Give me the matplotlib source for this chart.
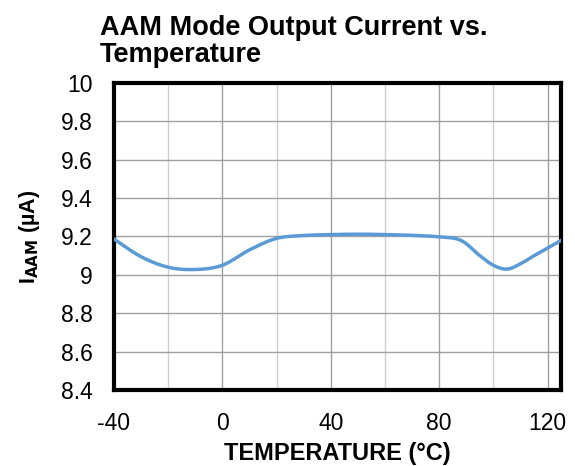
import numpy as np
import matplotlib
matplotlib.use("Agg")
import matplotlib.pyplot as plt

plt.rcParams['font.family'] = ['Liberation Sans', 'DejaVu Sans']
plt.rcParams['axes.unicode_minus'] = False

# data
temps = [-40, -30, -20, -10, 0, 10, 20, 30, 40, 50, 60, 70, 80, 88, 95, 100, 105, 110, 115, 120, 125]
current = [9.187, 9.095, 9.04, 9.028, 9.05, 9.13, 9.19, 9.205, 9.21, 9.212, 9.21, 9.206,
           9.198, 9.18, 9.10, 9.05, 9.03, 9.058, 9.10, 9.14, 9.18]
x_ticks = [-40, 0, 40, 80, 120]
y_ticks = [8.4, 8.6, 8.8, 9.0, 9.2, 9.4, 9.6, 9.8, 10.0]
y_labels = ['8.4', '8.6', '8.8', '9', '9.2', '9.4', '9.6', '9.8', '10']


def smooth(x, y, n=20):
    # Catmull-Rom style smoothing, like a spreadsheet "smoothed line"
    x = np.asarray(x, float)
    y = np.asarray(y, float)
    px = np.concatenate([[2 * x[0] - x[1]], x, [2 * x[-1] - x[-2]]])
    py = np.concatenate([[2 * y[0] - y[1]], y, [2 * y[-1] - y[-2]]])
    xs, ys = [], []
    t = np.linspace(0, 1, n, endpoint=False)
    for i in range(1, len(px) - 2):
        for p, out in ((px, xs), (py, ys)):
            p0, p1, p2, p3 = p[i - 1], p[i], p[i + 1], p[i + 2]
            out.extend(0.5 * (2 * p1 + (-p0 + p2) * t + (2 * p0 - 5 * p1 + 4 * p2 - p3) * t ** 2
                              + (-p0 + 3 * p1 - 3 * p2 + p3) * t ** 3))
    xs.append(x[-1])
    ys.append(y[-1])
    return xs, ys


fig = plt.figure(figsize=(5.75, 4.66), dpi=100)
ax = fig.add_axes([0.198, 0.163, 0.778, 0.659])

sx, sy = smooth(temps, current)
ax.plot(sx, sy, color='#5B9BD5', linewidth=2.5, solid_capstyle='round', zorder=3)

ax.set_xlim(-40, 125)
ax.set_ylim(8.4, 10)
ax.set_xticks(x_ticks)
ax.set_xticks([-20, 20, 60, 100], minor=True)
ax.set_yticks(y_ticks)
ax.set_yticklabels(y_labels)
ax.grid(True, which='major', color='#a0a0a0', linewidth=1)
ax.grid(True, which='minor', axis='x', color='#d0d0d0', linewidth=1)
ax.tick_params(which='both', length=0, labelsize=16.5)
ax.tick_params(axis='y', pad=15)
ax.tick_params(axis='x', pad=16)

for s in ax.spines.values():
    s.set_linewidth(3)
    s.set_color('black')

ax.set_xlabel('TEMPERATURE (°C)', fontsize=17, fontweight='bold', labelpad=5)
ax.set_ylabel(r'I$_{\mathbf{AAM}}$ (µA)', fontsize=15.5, fontweight='bold', labelpad=14)
fig.text(0.174, 0.967, 'AAM Mode Output Current vs.\nTemperature', fontsize=19.5,
         fontweight='bold', ha='left', va='top', linespacing=1.05)

fig.savefig('out.png', dpi=100)
